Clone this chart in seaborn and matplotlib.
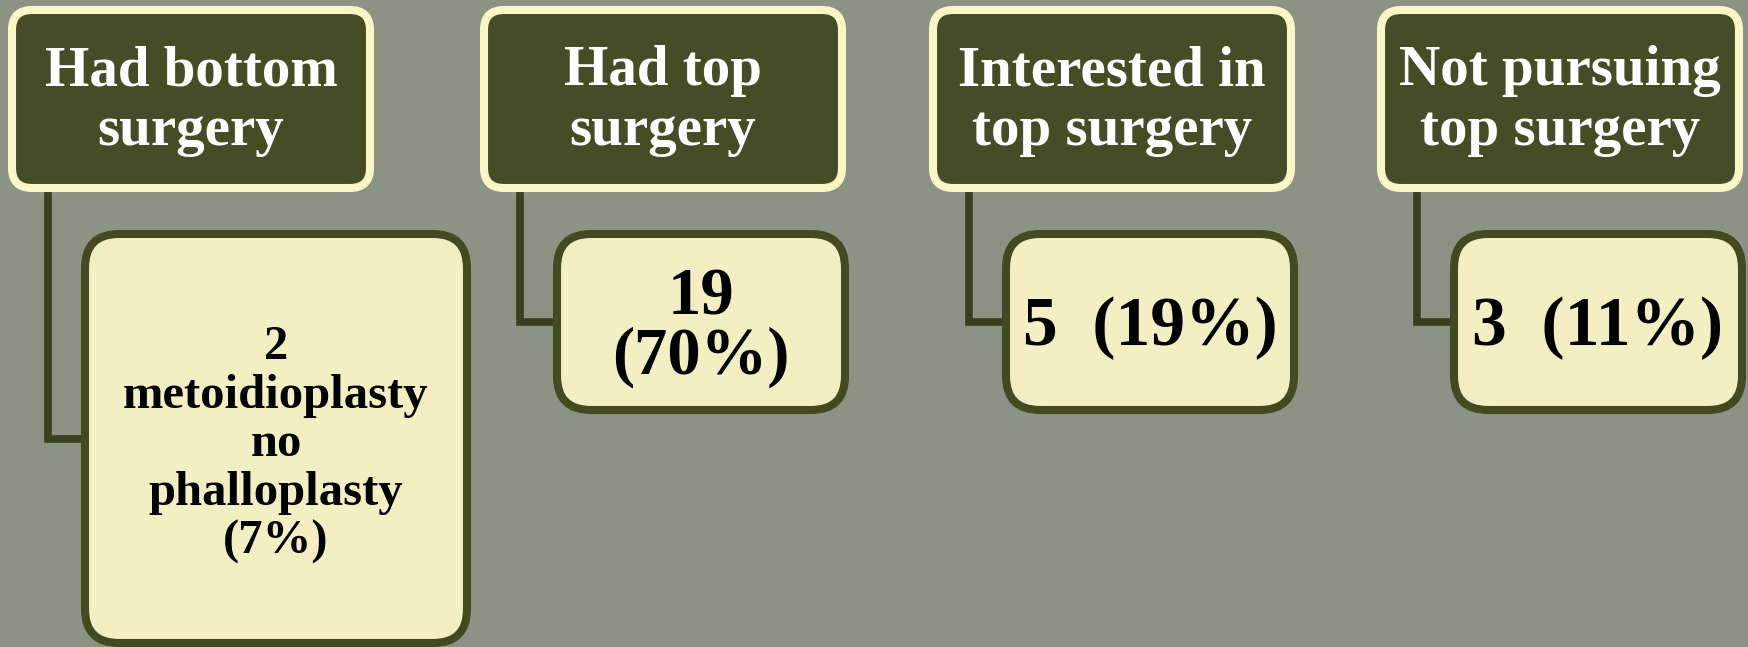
import matplotlib
matplotlib.use("Agg")
import matplotlib.pyplot as plt
from matplotlib.patches import FancyBboxPatch
import seaborn as sns
import pandas as pd

# chart content
headers = ["Had bottom\nsurgery", "Had top\nsurgery",
           "Interested in\ntop surgery", "Not pursuing\ntop surgery"]
counts = [2, 19, 5, 3]
percents = [7, 70, 19, 11]
details = ["metoidioplasty\nno\nphalloplasty", "", "", ""]

# colours
bg_color = "#8d9384"
header_fill = "#464d26"
header_edge = "#fbf6c6"
child_fill = "#f4efc3"
child_edge = "#434a22"
line_color = "#3a401f"

# layout (pixels, figure is 1748 x 647)
W, H = 1748, 647
col_left = [12, 484, 933, 1381]
header_w = 358
header_top, header_bot = 10, 188
child_off = 73
child_w = 288
child_top = 234
child_bot = [643, 410, 410, 410]
child_w_list = [382, child_w, child_w, child_w]
conn_off = 36

sns.set_theme(style="white")
plt.rcParams["font.family"] = ["Liberation Serif", "DejaVu Serif"]

fig = plt.figure(figsize=(W / 100, H / 100), dpi=100)
fig.patch.set_facecolor(bg_color)
ax = fig.add_axes([0, 0, 1, 1])
ax.set_facecolor(bg_color)

# connectors
rows = []
for i in range(len(headers)):
    cx = col_left[i] + conn_off
    cy = (child_top + child_bot[i]) / 2
    rows += [(i, cx, header_bot), (i, cx, cy), (i, col_left[i] + child_off, cy)]
conn = pd.DataFrame(rows, columns=["branch", "x", "y"])
sns.lineplot(data=conn, x="x", y="y", units="branch", estimator=None,
             sort=False, color=line_color, lw=5.5, ax=ax, zorder=1,
             solid_joinstyle="miter")
ax.set_xlim(0, W)
ax.set_ylim(H, 0)
ax.axis("off")

for i, label in enumerate(headers):
    x0 = col_left[i]
    ax.add_patch(FancyBboxPatch((x0, header_top), header_w, header_bot - header_top,
                                boxstyle="round,pad=0,rounding_size=20",
                                fc=header_fill, ec=header_edge, lw=5.8, zorder=2))
    ax.text(x0 + header_w / 2, (header_top + header_bot) / 2 + 2, label,
            ha="center", va="center", color="white", fontsize=41,
            fontweight="bold", linespacing=1.18, zorder=3)

    cx0 = x0 + child_off
    cw = child_w_list[i]
    ax.add_patch(FancyBboxPatch((cx0, child_top), cw, child_bot[i] - child_top,
                                boxstyle="round,pad=0,rounding_size=34",
                                fc=child_fill, ec=child_edge, lw=5.8, zorder=2))
    if details[i]:
        txt = f"{counts[i]}\n{details[i]}\n({percents[i]}%)"
        fs, ls = 35, 1.13
    elif i == 1:
        txt = f"{counts[i]}\n({percents[i]}%)"
        fs, ls = 48, 0.95
    else:
        txt = f"{counts[i]}  ({percents[i]}%)"
        fs, ls = 50, 1.0
    ax.text(cx0 + cw / 2, (child_top + child_bot[i]) / 2 + 6, txt,
            ha="center", va="center", color="black", fontsize=fs,
            fontweight="bold", linespacing=ls, zorder=3)

fig.savefig("out.png", dpi=100, facecolor=bg_color)
